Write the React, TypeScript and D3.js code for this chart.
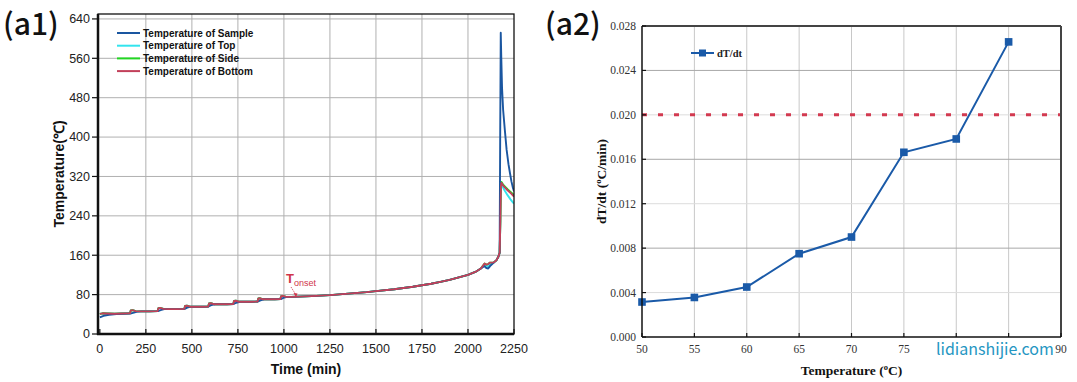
import React from "react";
import * as d3 from "d3";

// ---------- (a1) data ----------
const sampleTime = [0, 20, 50, 90, 130, 166, 180, 200, 225, 270, 316, 330, 350, 375, 420, 461, 475, 495, 520, 560, 591, 605, 625, 650, 690, 727, 741, 761, 786, 826, 859, 873, 893, 918, 950, 983, 997, 1017, 1040, 1080, 1150, 1250, 1350, 1450, 1500, 1600, 1700, 1750, 1800, 1850, 1900, 1950, 2000, 2040, 2070, 2090, 2100, 2110, 2120, 2140, 2155, 2165, 2172, 2175, 2178, 2181, 2185, 2191, 2200, 2210, 2220, 2228, 2236, 2244, 2250];
const sampleTemp = [34, 37, 39, 40.5, 41, 41.5, 43, 45, 46, 46, 46.5, 48.5, 50.5, 50.5, 50.5, 51, 53.5, 55.5, 55.5, 55.5, 56, 58.5, 60.5, 60.5, 60.5, 61, 63.5, 65.5, 65.5, 65.5, 66, 68.5, 70.5, 70.5, 70.5, 71, 73.5, 75.5, 75.5, 76, 77, 79, 82, 85, 87, 91, 96, 99, 102, 106, 110, 115, 120, 126, 133, 138, 134, 133, 138, 145, 150, 157, 165, 400, 612, 560, 500, 455, 415, 374, 345, 327, 310, 297, 290];

const bottomTime = [0, 15, 40, 80, 120, 164, 168, 178, 195, 225, 270, 314, 318, 328, 345, 375, 420, 459, 463, 473, 490, 520, 560, 589, 593, 603, 620, 650, 690, 725, 729, 739, 756, 786, 826, 857, 861, 871, 888, 918, 950, 981, 985, 995, 1012, 1040, 1080, 1150, 1250, 1350, 1450, 1500, 1600, 1700, 1750, 1800, 1850, 1900, 1950, 2000, 2040, 2070, 2090, 2100, 2110, 2120, 2140, 2155, 2165, 2172, 2176, 2179, 2182, 2190, 2200, 2215, 2230, 2245, 2250];
const bottomTemp = [41, 42, 41.5, 41, 41.5, 42, 48, 48.5, 46.5, 46, 46, 46.5, 52.5, 53, 51, 50.5, 50.5, 51, 57, 57.5, 55.5, 55.5, 55.5, 56, 62, 62.5, 60.5, 60.5, 60.5, 61, 67, 67.5, 65.5, 65.5, 65.5, 66, 72, 72.5, 70.5, 70.5, 70.5, 71, 77, 77.5, 75.5, 75.5, 76, 77, 79, 82, 85, 87, 91, 96, 99, 102, 106, 110, 115, 120, 126, 133, 143, 141, 142, 145, 145.5, 150, 157, 165, 230, 300, 307, 302, 298, 292, 287, 281, 279];
const topTemp = [41, 42, 41.5, 41, 41.5, 42, 48, 48.5, 46.5, 46, 46, 46.5, 52.5, 53, 51, 50.5, 50.5, 51, 57, 57.5, 55.5, 55.5, 55.5, 56, 62, 62.5, 60.5, 60.5, 60.5, 61, 67, 67.5, 65.5, 65.5, 65.5, 66, 72, 72.5, 70.5, 70.5, 70.5, 71, 77, 77.5, 75.5, 75.5, 76, 77, 79, 82, 85, 87, 91, 96, 99, 102, 106, 110, 115, 120, 126, 133, 141, 139, 137, 141, 145, 150, 157, 165, 230, 298, 305, 298, 291, 282, 274, 267, 265];
const sideTemp = [41, 42, 41.5, 41, 41.5, 42, 48, 48.5, 46.5, 46, 46, 46.5, 52.5, 53, 51, 50.5, 50.5, 51, 57, 57.5, 55.5, 55.5, 55.5, 56, 62, 62.5, 60.5, 60.5, 60.5, 61, 67, 67.5, 65.5, 65.5, 65.5, 66, 72, 72.5, 70.5, 70.5, 70.5, 71, 77, 77.5, 75.5, 75.5, 76, 77, 79, 82, 85, 87, 91, 96, 99, 102, 106, 110, 115, 120, 126, 133, 143, 141, 142, 145, 145.5, 150, 157, 165, 230, 302, 309, 304, 300, 294, 289, 284, 282];

const timeTicks = [0, 250, 500, 750, 1000, 1250, 1500, 1750, 2000, 2250];
const tempTicks = [0, 80, 160, 240, 320, 400, 480, 560, 640];
const legendLabels = ["Temperature of Sample", "Temperature of Top", "Temperature of Side", "Temperature of Bottom"];
const legendColors = ["#1a56a0", "#33e4ee", "#22d622", "#c2405a"];

// ---------- (a2) data ----------
const tempC = [50, 55, 60, 65, 70, 75, 80, 85];
const dTdt = [0.00315, 0.00356, 0.0045, 0.0075, 0.009, 0.01663, 0.01783, 0.02657];
const threshold = 0.02;
const tempCTicks = [50, 55, 60, 65, 70, 75, 80, 85, 90];
const hiddenTempLabels = [80, 85]; // covered by the watermark in the reference
const rateTicks = [0, 0.004, 0.008, 0.012, 0.016, 0.02, 0.024, 0.028];

const SANS = "'Liberation Sans', Arial, sans-serif";
const SERIF = "'Liberation Serif', 'Times New Roman', serif";
const LABELFONT = "'Noto Sans CJK SC', 'Noto Sans', sans-serif";

function LeftChart() {
  const L = 98, R = 514, T = 14, B = 334;
  const x = d3.scaleLinear().domain([-10, 2250]).range([L, R]);
  const y = d3.scaleLinear().domain([0, 650]).range([B, T]);
  const mk = (ts: number[], vs: number[]) =>
    d3.line<number>().x((_, i) => x(ts[i])).y((v) => y(v))(vs) || "";
  const series = [
    { d: mk(bottomTime, topTemp), c: legendColors[1] },
    { d: mk(bottomTime, sideTemp), c: legendColors[2] },
    { d: mk(sampleTime, sampleTemp), c: legendColors[0] },
    { d: mk(bottomTime, bottomTemp), c: legendColors[3] },
  ];
  return (
    <g>
      <text x={3} y={35} fontFamily={LABELFONT} fontWeight={500} fontSize={30} fill="#111">(a1)</text>
      <defs>
        <clipPath id="clipL"><rect x={L} y={T} width={R - L} height={B - T} /></clipPath>
      </defs>
      {timeTicks.slice(1, -1).map((t) => (
        <line key={"gx" + t} x1={x(t)} x2={x(t)} y1={T} y2={B} stroke="#b0b0b0" strokeWidth={1} />
      ))}
      {tempTicks.slice(1).map((t) => (
        <line key={"gy" + t} x1={L} x2={R} y1={y(t)} y2={y(t)} stroke="#b0b0b0" strokeWidth={1} />
      ))}
      <g clipPath="url(#clipL)">
        {series.map((s, i) => (
          <path key={i} d={s.d} fill="none" stroke={s.c} strokeWidth={1.9} strokeLinejoin="round" />
        ))}
      </g>
      <rect x={L} y={T} width={R - L} height={B - T} fill="none" stroke="#111" strokeWidth={1.3} />
      <line x1={L} x2={L} y1={T} y2={B + 1} stroke="#111" strokeWidth={2.5} />
      <line x1={L - 1} x2={R} y1={B} y2={B} stroke="#111" strokeWidth={2.5} />
      {tempTicks.map((t) => (
        <g key={"ty" + t}>
          <line x1={L - 6} x2={L} y1={y(t)} y2={y(t)} stroke="#111" strokeWidth={1.2} />
          <text x={L - 8} y={y(t)} dy="0.35em" textAnchor="end" fontFamily={SANS} fontSize={12.5} fill="#222">{t}</text>
        </g>
      ))}
      {timeTicks.map((t) => (
        <g key={"tx" + t}>
          <line x1={x(t)} x2={x(t)} y1={B - 5} y2={B} stroke="#111" strokeWidth={1.2} />
          <text x={x(t)} y={B + 19} textAnchor="middle" fontFamily={SANS} fontSize={12.5} fill="#222">{t}</text>
        </g>
      ))}
      <text x={(L + R) / 2} y={374} textAnchor="middle" fontFamily={SANS} fontWeight="bold" fontSize={14} fill="#111">Time (min)</text>
      <text transform={`translate(64,${(T + B) / 2}) rotate(-90)`} textAnchor="middle" fontFamily={SANS} fontWeight="bold" fontSize={14} fill="#111">Temperature(℃)</text>
      {legendLabels.map((lab, i) => (
        <g key={lab} transform={`translate(117,${33 + i * 12.7})`}>
          <line x1={0} x2={23} y1={0} y2={0} stroke={legendColors[i]} strokeWidth={2} />
          <text x={26} y={0} dy="0.35em" fontFamily={SANS} fontWeight="bold" fontSize={10} fill="#111">{lab}</text>
        </g>
      ))}
      <text x={286} y={283} fontFamily={SANS} fontWeight="bold" fontSize={13} fill="#d0344a">T<tspan fontSize={9} fontWeight="normal" dy={3}>onset</tspan></text>
      <line x1={291} x2={296} y1={287} y2={295} stroke="#d0344a" strokeWidth={0.8} strokeDasharray="1.5 1" />
      <path d="M296,297 L293.5,293 L297.5,293.5 Z" fill="#d0344a" />
    </g>
  );
}

function RightChart() {
  const L = 642, R = 1061, T = 26, B = 337;
  const x = d3.scaleLinear().domain([50, 90]).range([L, R]);
  const y = d3.scaleLinear().domain([0, 0.028]).range([B, T]);
  const line = d3.line<number>().x((_, i) => x(tempC[i])).y((v) => y(v));
  return (
    <g>
      <text x={545} y={35} fontFamily={LABELFONT} fontWeight={500} fontSize={30} fill="#111">(a2)</text>
      {tempCTicks.slice(1, -1).map((t) => (
        <line key={"gx" + t} x1={x(t)} x2={x(t)} y1={T} y2={B} stroke="#c8c8c8" strokeWidth={1} />
      ))}
      {rateTicks.slice(1, -1).map((t, i) => (
        <line key={"gy" + t} x1={L} x2={R} y1={y(t)} y2={y(t)} stroke={i % 2 === 1 ? "#a8a8a8" : "#dcdcdc"} strokeWidth={1} />
      ))}
      <line x1={L} x2={R} y1={y(threshold)} y2={y(threshold)} stroke="#d23a50" strokeWidth={3} strokeDasharray="5 11" />
      <path d={line(dTdt) || ""} fill="none" stroke="#1a5aa8" strokeWidth={2} />
      {dTdt.map((v, i) => (
        <rect key={i} x={x(tempC[i]) - 3.8} y={y(v) - 3.8} width={7.6} height={7.6} fill="#1a5aa8" />
      ))}
      <line x1={L} x2={R} y1={T} y2={T} stroke="#444" strokeWidth={2} />
      <line x1={R} x2={R} y1={T} y2={B} stroke="#444" strokeWidth={2} />
      <line x1={L} x2={L} y1={T} y2={B} stroke="#111" strokeWidth={1.5} />
      <line x1={L} x2={R} y1={B} y2={B} stroke="#111" strokeWidth={1.5} />
      {rateTicks.map((t) => (
        <g key={"ty" + t}>
          <line x1={L} x2={L + 4} y1={y(t)} y2={y(t)} stroke="#111" strokeWidth={1.2} />
          <text x={L - 6} y={y(t)} dy="0.35em" textAnchor="end" fontFamily={SERIF} fontSize={11.5} fill="#333">{t.toFixed(3)}</text>
        </g>
      ))}
      {tempCTicks.map((t) => (
        <g key={"tx" + t}>
          <line x1={x(t)} x2={x(t)} y1={B - 4} y2={B} stroke="#111" strokeWidth={1.2} />
          {hiddenTempLabels.includes(t) ? null : (
            <text x={x(t)} y={B + 16} textAnchor="middle" fontFamily={SERIF} fontSize={11.5} fill="#333">{t}</text>
          )}
        </g>
      ))}
      <text x={(L + R) / 2} y={375} textAnchor="middle" fontFamily={SERIF} fontWeight="bold" fontSize={13.5} fill="#111">
        Temperature (<tspan fontSize={8.5} dy={-5}>o</tspan><tspan dy={5}>C)</tspan>
      </text>
      <text transform={`translate(606,${(T + B) / 2}) rotate(-90)`} textAnchor="middle" fontFamily={SERIF} fontWeight="bold" fontSize={13.5} fill="#111">
        dT/dt (<tspan fontSize={8.5} dy={-5}>o</tspan><tspan dy={5}>C/min)</tspan>
      </text>
      <g transform="translate(691,53)">
        <line x1={0} x2={23} y1={0} y2={0} stroke="#1a5aa8" strokeWidth={2} />
        <rect x={8} y={-3.5} width={7} height={7} fill="#1a5aa8" />
        <text x={26} y={0} dy="0.35em" fontFamily={SERIF} fontWeight="bold" fontSize={10.5} fill="#222">dT/dt</text>
      </g>
      <text x={936} y={355} fontFamily={LABELFONT} fontSize={16} fill="#2596c2">lidianshijie.com</text>
    </g>
  );
}

export default function App() {
  return (
    <svg width={1077} height={382} viewBox="0 0 1077 382" style={{ position: "absolute", left: 0, top: 0, background: "#fff" }}>
      <rect x={0} y={0} width={1077} height={382} fill="#fff" />
      <LeftChart />
      <RightChart />
    </svg>
  );
}
